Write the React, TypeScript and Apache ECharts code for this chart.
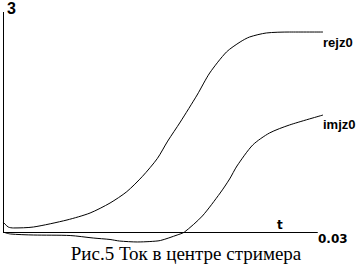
import React, { useEffect, useRef } from "react";
import * as echarts from "echarts";

// time (s) and values
const reT = [0, 0.0005, 0.001, 0.0029, 0.0061, 0.0083, 0.0102, 0.0118, 0.0133, 0.0147, 0.0157, 0.0169, 0.0185, 0.0197, 0.0213, 0.0226, 0.0235, 0.0251, 0.0273, 0.0305];
const reV = [0.136, 0.068, 0.055, 0.068, 0.164, 0.259, 0.395, 0.55, 0.76, 1.0, 1.24, 1.5, 1.868, 2.168, 2.455, 2.591, 2.659, 2.714, 2.727, 2.727];
const imT = [0, 0.0007, 0.0029, 0.0064, 0.0086, 0.0102, 0.0111, 0.0128, 0.014, 0.015, 0.0166, 0.0173, 0.019, 0.0207, 0.0216, 0.0223, 0.0238, 0.0254, 0.0273, 0.0305];
const imV = [0, -0.027, -0.041, -0.048, -0.082, -0.102, -0.123, -0.136, -0.13, -0.116, -0.041, 0, 0.218, 0.532, 0.723, 0.9, 1.186, 1.35, 1.459, 1.595];
const seriesNames = ["rejz0", "imjz0"];
const yMax = 3;
const yMin = -0.3;
const xMax = 0.0305;
const xAxisEnd = 0.03;
const yTopLabel = "3";
const xEndLabel = "0.03";
const xName = "t";
const caption = "Рис.5 Ток в центре стримера";

export default function App() {
  const ref = useRef<HTMLDivElement>(null);
  useEffect(() => {
    if (!ref.current) return;
    const chart = echarts.init(ref.current, undefined, { renderer: "svg" });
    const lbl = { fontFamily: "Liberation Sans", fontWeight: "bold", fontSize: 13, color: "#000", distance: 0 };
    chart.setOption({
      animation: false,
      backgroundColor: "#fff",
      grid: { left: 3, right: 39, top: 12, bottom: 13 },
      xAxis: { type: "value", min: 0, max: xMax, show: false },
      yAxis: { type: "value", min: yMin, max: yMax, show: false },
      series: [
        {
          name: seriesNames[0],
          type: "line",
          data: reT.map((t, i) => [t, reV[i]]),
          showSymbol: false,
          smooth: 0.25,
          lineStyle: { color: "#000", width: 1 },
          endLabel: { show: true, formatter: seriesNames[0], offset: [0, 10], ...lbl },
          markLine: {
            silent: true,
            symbol: "none",
            label: { show: false },
            lineStyle: { color: "#000", width: 1, type: "solid" },
            data: [
              [{ coord: [0, 0] }, { coord: [xAxisEnd, 0] }],
              [{ coord: [0, 0] }, { coord: [0, yMax] }],
            ],
          },
        },
        {
          name: seriesNames[1],
          type: "line",
          data: imT.map((t, i) => [t, imV[i]]),
          showSymbol: false,
          smooth: 0.25,
          lineStyle: { color: "#000", width: 1 },
          endLabel: { show: true, formatter: seriesNames[1], offset: [0, 9], ...lbl },
        },
      ],
      graphic: [
        { type: "text", left: 7, top: 0, style: { text: yTopLabel, font: "bold 16px 'Liberation Sans'", fill: "#000" } },
        { type: "text", left: 318, top: 233, style: { text: xEndLabel, font: "bold 12px 'DejaVu Sans'", fill: "#000" } },
        { type: "text", left: 277, top: 219, style: { text: xName, font: "bold 12px 'DejaVu Sans'", fill: "#000" } },
        { type: "text", x: 186, y: 244, style: { text: caption, font: "19px 'Liberation Serif'", fill: "#000", align: "center", verticalAlign: "top" } },
      ],
    });
    return () => chart.dispose();
  }, []);
  return <div ref={ref} style={{ position: "absolute", left: 0, top: 0, width: 362, height: 267 }} />;
}
